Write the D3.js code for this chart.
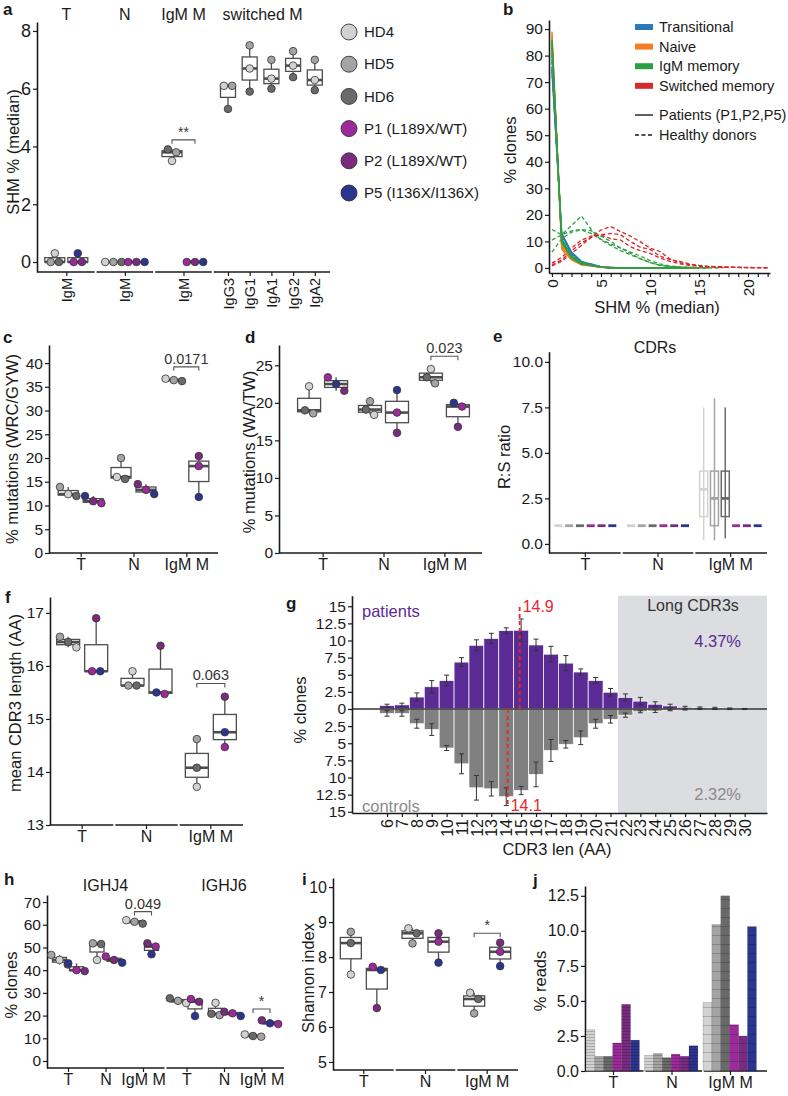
<!DOCTYPE html>
<html>
<head>
<meta charset="utf-8">
<script src="https://cdn.jsdelivr.net/npm/d3@7"></script>
<style>
  body { margin: 0; background: #fff; }
  svg { display: block; font-family: "Liberation Sans", Arial, sans-serif; }
</style>
</head>
<body>
<svg id="fig" width="788" height="1096"></svg>
<script>
// ---------------- data ----------------
const samples = ["HD4", "HD5", "HD6", "P1", "P2", "P5"];
const sampleLabels = ["HD4", "HD5", "HD6", "P1 (L189X/WT)", "P2 (L189X/WT)", "P5 (I136X/I136X)"];
const sampleColors = ["#d2d2d2", "#a4a4a4", "#6a6a6a", "#9c2a9c", "#7a2b80", "#2b3590"];
const subsets = ["T", "N", "IgM M"];

// a: median SHM %, per subset -> [HD4, HD5, HD6] and [P1, P2, P5]
const shmGroups = ["T", "N", "IgM M", "switched M"];
const switchedIsotypes = ["IgG3", "IgG1", "IgA1", "IgG2", "IgA2"];
const shmHD = [[0.3, 0, 0], [0, 0, 0], [3.5, 3.8, 3.9]];
const shmPt = [[0, 0, 0.3], [0, 0, 0], [0, 0, 0]];
const shmSwitchedHD = [[6.1, 6.1, 5.3], [6.7, 7.5, 5.9], [6.35, 7.0, 6.0], [6.8, 7.3, 6.4], [6.3, 7.0, 5.95]];

// b: % clones per SHM bin
const shmBins = [0, 1, 2, 3, 4, 5, 6, 7, 8, 9, 10, 11, 12, 13, 14, 15, 16, 17, 18, 19, 20, 21, 22];
const bSubsets = ["Transitional", "Naive", "IgM memory", "Switched memory"];
const bColors = ["#2a7ab9", "#f07e26", "#2ca043", "#d9262b"];
const transP1 = [76, 12.5, 5.5, 2.2, 1.5, 0.4, 0.1, 0, 0, 0, 0, 0, 0, 0, 0];
const transP2 = [80, 10, 4.5, 1.8, 1.1, 0.3, 0.1, 0, 0, 0, 0, 0, 0];
const transP5 = [74, 13, 6, 2.5, 1.3, 0.4, 0.1, 0, 0, 0, 0, 0];
const transHD4 = [78, 11, 5, 2, 1.2, 0.5, 0.2, 0.1, 0, 0, 0, 0, 0, 0, 0, 0];
const transHD5 = [81, 9.5, 4.2, 1.6, 0.9, 0.3, 0.1, 0, 0, 0, 0, 0, 0, 0];
const transHD6 = [75, 12, 6, 2.3, 1.4, 0.5, 0.2, 0.1, 0, 0, 0, 0, 0];
const naiveP1 = [89, 7, 3, 1.2, 0.8, 0.2, 0.1, 0, 0, 0, 0, 0, 0, 0, 0, 0];
const naiveP2 = [86, 8, 3.5, 1.5, 1, 0.3, 0.1, 0, 0, 0, 0, 0, 0, 0];
const naiveP5 = [84, 9, 4, 1.6, 0.9, 0.3, 0.1, 0, 0, 0, 0, 0, 0];
const naiveHD4 = [87, 8, 3.2, 1.2, 0.7, 0.3, 0.2, 0.1, 0.1, 0.1, 0.1, 0.1, 0.1, 0.1, 0.1, 0.1, 0.1, 0.1, 0.1];
const naiveHD5 = [85, 9, 4, 1.8, 1, 0.4, 0.2, 0.1, 0.1, 0, 0, 0, 0, 0, 0, 0, 0];
const naiveHD6 = [88, 7.5, 3.5, 1.3, 0.8, 0.3, 0.2, 0.1, 0, 0, 0, 0, 0, 0, 0];
const igmP1 = [85, 10, 4, 1.6, 1, 0.3, 0.1, 0, 0, 0, 0, 0, 0, 0, 0, 0];
const igmP2 = [83, 11, 4.5, 2, 1.1, 0.3, 0.1, 0, 0, 0, 0, 0, 0, 0];
const igmP5 = [86, 9.5, 3.8, 1.5, 0.9, 0.2, 0.1, 0, 0, 0, 0, 0, 0, 0, 0];
const igmHD4 = [14.5, 12.5, 16, 19.6, 14.5, 10.5, 8.5, 6.5, 5, 3.5, 2, 1, 0.6, 0.4, 0.2, 0.1, 0, 0];
const igmHD5 = [10.5, 12.5, 14, 14.5, 14, 12, 10, 7.5, 5.5, 3.5, 2, 1, 0.5, 0.3, 0.2, 0.1, 0];
const igmHD6 = [6, 11, 13.5, 14.3, 13, 10.8, 9, 7.5, 6, 4.5, 2.8, 1.5, 0.8, 0.4, 0.2, 0.1, 0];
const swHD4 = [0.8, 2.5, 5.5, 8.5, 11.5, 14.3, 15.6, 13.7, 12, 9.9, 7.5, 6.2, 3.5, 2, 1.3, 0.8, 0.5, 0.4, 0.3, 0.2, 0.1, 0.1, 0];
const swHD5 = [1.8, 4, 7.5, 10.5, 12, 12.5, 13, 12.5, 10, 7.8, 7, 4.5, 3.2, 2.5, 1.5, 1, 0.6, 0.5, 0.3, 0.2, 0.2, 0.1, 0.1];
const swHD6 = [1.2, 3, 6.5, 9.5, 11.5, 12.5, 11, 10.5, 8, 6.5, 5.5, 3.8, 2.5, 1.6, 1, 0.6, 0.4, 0.3, 0.2, 0.2, 0.1, 0.1, 0.1];
const bPatients = [[transP1, transP2, transP5], [naiveP1, naiveP2, naiveP5], [igmP1, igmP2, igmP5], []];
const bDonors = [[transHD4, transHD5, transHD6], [naiveHD4, naiveHD5, naiveHD6], [igmHD4, igmHD5, igmHD6], [swHD4, swHD5, swHD6]];

// c: % mutations in WRC/GYW hotspots
const wrcHD = [[12.4, 13.9, 12.0], [16.0, 20.0, 15.6], [36.7, 36.4, 36.2]];
const wrcPt = [[10.5, 10.9, 12.0], [13.3, 14.5, 12.4], [18.3, 20.4, 11.8]];
// d: % mutations in WA/TW hotspots
const waHD = [[22.2, 18.6, 19.0], [18.4, 20.2, 19.1], [24.5, 22.6, 23.4]];
const waPt = [[23.4, 21.6, 22.5], [18.7, 16.0, 21.7], [19.5, 16.8, 20.0]];
// e: R:S ratio box summaries [min, q1, median, q3, max]
const rsHD = [
  [[1, 1, 1, 1, 1], [1, 1, 1, 1, 1], [1, 1, 1, 1, 1]],
  [[1, 1, 1, 1, 1], [1, 1, 1, 1, 1], [1, 1, 1, 1, 1]],
  [[0.2, 1.5, 3.0, 4.0, 7.5], [0.2, 1.0, 2.5, 4.0, 8.0], [0.3, 1.5, 2.5, 4.0, 7.5]]
];
const rsPt = [
  [[1, 1, 1, 1, 1], [1, 1, 1, 1, 1], [1, 1, 1, 1, 1]],
  [[1, 1, 1, 1, 1], [1, 1, 1, 1, 1], [1, 1, 1, 1, 1]],
  [[1, 1, 1, 1, 1], [1, 1, 1, 1, 1], [1, 1, 1, 1, 1]]
];
// f: mean CDR3 length
const cdrHD = [[16.35, 16.55, 16.45], [15.9, 15.63, 15.63], [13.72, 14.62, 14.08]];
const cdrPt = [[15.9, 16.9, 15.9], [15.47, 16.38, 15.5], [14.47, 15.42, 14.75]];
// g: CDR3 length distribution
const cdr3Lengths = [6, 7, 8, 9, 10, 11, 12, 13, 14, 15, 16, 17, 18, 19, 20, 21, 22, 23, 24, 25, 26, 27, 28, 29, 30];
const patientPct = [0.5, 0.6, 1.75, 3.25, 4.15, 6.85, 9.3, 10.3, 11.45, 11.5, 9.35, 8.0, 6.7, 5.4, 4.15, 2.45, 1.7, 1.15, 0.7, 0.45, 0.25, 0.2, 0.15, 0.1, 0.05];
const patientErr = [0.2, 0.25, 0.6, 0.9, 0.8, 0.65, 0.8, 0.75, 0.4, 1.65, 0.85, 1.15, 1.1, 0.45, 0.45, 0.55, 0.5, 0.55, 0.35, 0.25, 0.15, 0.1, 0.1, 0.05, 0.03];
const controlPct = [0.65, 0.65, 2.15, 3.0, 5.7, 8.0, 11.5, 11.65, 12.8, 11.9, 9.55, 6.05, 5.15, 4.2, 2.15, 1.5, 0.9, 0.4, 0.3, 0.15, 0.1, 0.05, 0.05, 0.05, 0.05];
const controlErr = [0.4, 0.4, 0.65, 0.85, 0.35, 1.45, 1.8, 1.05, 1.3, 0.6, 1.8, 1.6, 0.55, 1.0, 0.65, 0.55, 0.3, 0.15, 0.2, 0.1, 0.05, 0.03, 0.03, 0.03, 0.03];
const meanLen = [14.9, 14.1];          // patients, controls
const longShare = ["4.37%", "2.32%"];  // patients, controls
const longStart = 21.5;
// h: IGHJ usage
const genes = ["IGHJ4", "IGHJ6"];
const j4HD = [[44.5, 46.7, 42.5], [44.5, 51.8, 51.5], [62.0, 61.3, 60.5]];
const j4Pt = [[40.0, 39.6, 43.0], [46.0, 44.5, 43.3], [50.4, 51.8, 47.0]];
const j6HD = [[25.5, 26.5, 27.6], [25.6, 20.2, 20.8], [11.7, 10.7, 11.0]];
const j6Pt = [[27.3, 26.1, 19.8], [21.0, 21.7, 19.8], [16.3, 17.9, 16.6]];
// i: Shannon index
const shanHD = [[7.5, 8.72, 8.4], [8.82, 8.39, 8.68], [6.98, 6.39, 6.8]];
const shanPt = [[7.72, 6.54, 7.63], [8.44, 8.68, 7.84], [8.15, 8.41, 7.74]];
// j: % reads of top clones
const readsHD = [[2.95, 1.05, 1.05], [1.1, 1.25, 0.95], [4.9, 10.45, 12.5]];
const readsPt = [[2.0, 4.75, 2.2], [1.2, 1.05, 1.8], [3.3, 2.5, 10.3]];

// ---------------- helpers ----------------
const svg = d3.select("#fig");
const FONT = "Liberation Sans, Arial, sans-serif";
const INK = "#1a1a1a";
const BOX = "#4d4d4d";
const R = 3.8;
const TICK = 15.5;
const TITLE = 16.5;
const hdColors = sampleColors.slice(0, 3);
const ptColors = sampleColors.slice(3);

svg.append("rect").attr("width", 788).attr("height", 1096).attr("fill", "#fff");

function letter(x, y, t) {
  svg.append("text").attr("x", x).attr("y", y).attr("font-weight", "bold")
    .attr("font-size", 17).attr("fill", INK).text(t);
}

function label(x, y, t, size, color, anchor) {
  return svg.append("text").attr("x", x).attr("y", y).attr("font-size", size || TICK)
    .attr("fill", color || INK).attr("text-anchor", anchor || "middle").text(t);
}

function yTitle(cx, cy, t) {
  svg.append("text").attr("transform", `translate(${cx},${cy}) rotate(-90)`)
    .attr("text-anchor", "middle").attr("dy", "0.35em").attr("font-size", TITLE)
    .attr("fill", INK).text(t);
}

function styleAxis(g, size) {
  g.selectAll(".domain").attr("stroke", INK).attr("stroke-width", 1.6);
  g.selectAll(".tick line").attr("stroke", INK).attr("stroke-width", 1.2);
  g.selectAll(".tick text").attr("fill", INK).attr("font-size", size || TICK).attr("font-family", FONT);
}

function yAxis(scale, x, ticks, fmt, size) {
  const g = svg.append("g").attr("transform", `translate(${x},0)`)
    .call(d3.axisLeft(scale).tickValues(ticks).tickFormat(fmt || d3.format("d"))
      .tickSize(4).tickPadding(2).tickSizeOuter(0));
  styleAxis(g, size);
  return g;
}

function catAxis(scale, y, size) {
  const g = svg.append("g").attr("transform", `translate(0,${y})`)
    .call(d3.axisBottom(scale).tickSize(4).tickPadding(2).tickSizeOuter(0));
  g.select(".domain").remove();
  styleAxis(g, size || 16);
  return g;
}

function rotateLabels(g) {
  g.selectAll(".tick text").attr("transform", "rotate(-90)").attr("text-anchor", "end")
    .attr("x", -6).attr("y", 0).attr("dy", "0.35em");
}

// axis line split into segments with small gaps
function segLine(segs, y) {
  svg.append("g").selectAll("line").data(segs).join("line")
    .attr("x1", (d, i) => d[0] + (i > 0 ? 1 : 0))
    .attr("x2", (d, i) => d[1] - (i < segs.length - 1 ? 1 : 0))
    .attr("y1", y).attr("y2", y).attr("stroke", INK).attr("stroke-width", 1.6);
}

function bandSegs(scale) {
  return scale.domain().map(d => [scale(d), scale(d) + scale.step()]);
}

function boxStats(vals) {
  const s = vals.slice().sort(d3.ascending);
  return [s[0], d3.quantileSorted(s, 0.25), d3.quantileSorted(s, 0.5), d3.quantileSorted(s, 0.75), s[s.length - 1]];
}

function drawBox(g, cx, st, y, w, color, fill, sw, mw) {
  g.append("line").attr("x1", cx).attr("x2", cx).attr("y1", y(st[0])).attr("y2", y(st[4]))
    .attr("stroke", color).attr("stroke-width", sw || 1.3);
  g.append("rect").attr("x", cx - w / 2).attr("y", y(st[3])).attr("width", w)
    .attr("height", Math.max(0, y(st[1]) - y(st[3])))
    .attr("fill", fill).attr("stroke", color).attr("stroke-width", sw || 1.3);
  g.append("line").attr("x1", cx - w / 2).attr("x2", cx + w / 2).attr("y1", y(st[2])).attr("y2", y(st[2]))
    .attr("stroke", color).attr("stroke-width", mw || 2.6);
}

// simple beeswarm: points that overlap vertically are spread sideways
function drawSwarm(g, cx, vals, colors, y) {
  const pts = vals.map((v, i) => ({ v, c: colors[i], py: y(v) })).sort((a, b) => a.py - b.py);
  const clusters = [];
  pts.forEach(p => {
    const last = clusters[clusters.length - 1];
    if (last && p.py - last[last.length - 1].py < 2 * R) last.push(p);
    else clusters.push([p]);
  });
  clusters.forEach(cl => cl.forEach((p, i) => { p.px = cx + (i - (cl.length - 1) / 2) * (2 * R + 0.6); }));
  g.append("g").selectAll("circle").data(pts).join("circle")
    .attr("cx", d => d.px).attr("cy", d => d.py).attr("r", R)
    .attr("fill", d => d.c).attr("stroke", "#333").attr("stroke-width", 0.8);
}

function boxPanel(centers, off, hd, pt, y, w) {
  const g = svg.append("g");
  centers.forEach((cx, i) => {
    drawBox(g, cx - off, boxStats(hd[i]), y, w, BOX, "#fff");
    drawBox(g, cx + off, boxStats(pt[i]), y, w, BOX, "#fff");
  });
  centers.forEach((cx, i) => {
    drawSwarm(g, cx - off, hd[i], hdColors, y);
    drawSwarm(g, cx + off, pt[i], ptColors, y);
  });
}

function bracket(x1, x2, y, text, size) {
  svg.append("path").attr("d", `M${x1},${y + 4}V${y}H${x2}V${y + 4}`)
    .attr("fill", "none").attr("stroke", "#555").attr("stroke-width", 1.1);
  label((x1 + x2) / 2, y - 3, text, size || 14.5, "#333");
}

// ---------------- panel a ----------------
letter(3, 15, "a");
const yA = d3.scaleLinear().domain([-0.346, 8.31]).range([272, 22]);
const uA = d3.scaleLinear().domain([0, 5]).range([37, 330]);
const swPos = d3.scalePoint().domain(switchedIsotypes).range([3, 5]).padding(0.7);
const aSpans = [[0, 1], [1, 2], [2, 3], [3, 5]];
yAxis(yA, 37, [0, 2, 4, 6, 8], d3.format("d"), 18);
segLine(aSpans.map(s => [uA(s[0]), uA(s[1])]), 272);
const aTickUnits = [0.5, 1.5, 2.5].concat(switchedIsotypes.map(swPos));
const aTickLabels = ["IgM", "IgM", "IgM"].concat(switchedIsotypes);
const gAx = svg.append("g").attr("transform", "translate(0,272)")
  .call(d3.axisBottom(uA).tickValues(aTickUnits).tickFormat((d, i) => aTickLabels[i]).tickSize(4));
gAx.select(".domain").remove();
styleAxis(gAx, 14.5);
rotateLabels(gAx);
shmGroups.forEach((name, i) => label(uA(i < 3 ? i + 0.5 : 3.85), 20, name, 16));
boxPanel(subsets.map((s, i) => uA(i + 0.5)), 11.5, shmHD, shmPt, yA, 20);
const gSw = svg.append("g");
switchedIsotypes.forEach((iso, k) => drawBox(gSw, uA(swPos(iso)), boxStats(shmSwitchedHD[k]), yA, 15, BOX, "#fff"));
switchedIsotypes.forEach((iso, k) => drawSwarm(gSw, uA(swPos(iso)), shmSwitchedHD[k], hdColors, yA));
bracket(uA(2.5) - 11.5, uA(2.5) + 11.5, yA(4.23), "**", 14);
yTitle(13, 152, "SHM % (median)");

// legend a
const legA = svg.append("g").attr("transform", "translate(349,32)");
sampleLabels.forEach((t, i) => {
  const row = legA.append("g").attr("transform", `translate(0,${i * 32.2})`);
  row.append("circle").attr("r", 8).attr("fill", sampleColors[i]).attr("stroke", "#333").attr("stroke-width", 0.9);
  row.append("text").attr("x", 15).attr("dy", "0.35em").attr("font-size", 15).attr("fill", INK).text(t);
});

// ---------------- panel b ----------------
letter(503, 15, "b");
const xB = d3.scaleLinear().domain([-0.3, 22.24]).range([549, 770]);
const yB = d3.scaleLinear().domain([-1.9, 93.4]).range([273, 20]);
yAxis(yB, 549, [0, 10, 20, 30, 40, 50, 60, 70, 80, 90], d3.format("d"), 15.5);
const gBx = svg.append("g").attr("transform", "translate(0,273)")
  .call(d3.axisBottom(xB).tickValues(shmBins).tickFormat(d => d % 5 === 0 ? d : "").tickSize(4).tickSizeOuter(0));
styleAxis(gBx, 15.5);
rotateLabels(gBx);
const bLine = d3.line().x((d, i) => xB(shmBins[i])).y(d => yB(d));
const gB = svg.append("g").attr("fill", "none");
bDonors.forEach((set, k) => set.forEach(s => gB.append("path").attr("d", bLine(s))
  .attr("stroke", bColors[k]).attr("stroke-width", 1.3).attr("stroke-dasharray", "4,2.5")));
bPatients.forEach((set, k) => set.forEach(s => gB.append("path").attr("d", bLine(s))
  .attr("stroke", bColors[k]).attr("stroke-width", 1.4)));
yTitle(510, 150, "% clones");
label(657, 313, "SHM % (median)", TITLE);
const legB = svg.append("g").attr("transform", "translate(635,0)");
bSubsets.forEach((t, i) => {
  const yy = 27 + i * 19.6;
  legB.append("rect").attr("x", 0).attr("y", yy - 3).attr("width", 18).attr("height", 6).attr("fill", bColors[i]);
  legB.append("text").attr("x", 24).attr("y", yy).attr("dy", "0.35em").attr("font-size", 14.5).attr("fill", INK).text(t);
});
[["Patients (P1,P2,P5)", null], ["Healthy donors", "4,2.5"]].forEach(([t, dash], i) => {
  const yy = 115 + i * 20;
  legB.append("line").attr("x1", 0).attr("x2", 18).attr("y1", yy).attr("y2", yy)
    .attr("stroke", INK).attr("stroke-width", 1.4).attr("stroke-dasharray", dash);
  legB.append("text").attr("x", 24).attr("y", yy).attr("dy", "0.35em").attr("font-size", 14.5).attr("fill", INK).text(t);
});

// ---------------- panel c ----------------
letter(3, 343, "c");
const yC = d3.scaleLinear().domain([0, 43.8]).range([553, 345]);
yAxis(yC, 49, [0, 5, 10, 15, 20, 25, 30, 35, 40]);
segLine([[49, 218]], 553);
const xC = d3.scalePoint().domain(subsets).range([49, 218]).padding(0.6);
catAxis(xC, 553);
boxPanel(subsets.map(xC), 12.5, wrcHD, wrcPt, yC, 20);
bracket(xC("IgM M") - 12.5, xC("IgM M") + 12.5, yC(39.2), "0.0171");
yTitle(12, 449, "% mutations (WRC/GYW)");

// ---------------- panel d ----------------
letter(245, 343, "d");
const yD = d3.scaleLinear().domain([0, 27.7]).range([553, 345]);
yAxis(yD, 279, [0, 5, 10, 15, 20, 25]);
segLine([[279, 482]], 553);
const xD = d3.scalePoint().domain(subsets).range([283, 484]).padding(0.65);
catAxis(xD, 553);
boxPanel(subsets.map(xD), 13.5, waHD, waPt, yD, 23);
bracket(xD("IgM M") - 13.5, xD("IgM M") + 13.5, yD(26.2), "0.023");
yTitle(249, 452, "% mutations (WA/TW)");

// ---------------- panel e ----------------
letter(493, 342, "e");
label(655, 353, "CDRs", 16);
const yE = d3.scaleLinear().domain([-0.5, 10.56]).range([553, 351.7]);
yAxis(yE, 549, [0, 2.5, 5, 7.5, 10], d3.format(".1f"));
const xE = d3.scaleBand().domain(subsets).range([549, 767]);
segLine(bandSegs(xE), 553);
catAxis(xE, 553);
const innerE = d3.scalePoint().domain(samples).range([-27, 27]);
const gE = svg.append("g");
subsets.forEach((s, i) => samples.forEach((smp, j) => {
  const st = j < 3 ? rsHD[i][j] : rsPt[i][j - 3];
  drawBox(gE, xE(s) + xE.bandwidth() / 2 + innerE(smp), st, yE, 8, sampleColors[j], "none", 1.5, 2.8);
}));
yTitle(504, 457, "R:S ratio");

// ---------------- panel f ----------------
letter(5, 603, "f");
const yF = d3.scaleLinear().domain([13, 17.3]).range([825, 597]);
yAxis(yF, 50, [13, 14, 15, 16, 17]);
const xF = d3.scaleBand().domain(subsets).range([50, 243]);
segLine(bandSegs(xF), 825);
catAxis(xF, 825);
boxPanel(subsets.map(s => xF(s) + xF.bandwidth() / 2), 14, cdrHD, cdrPt, yF, 23);
bracket(xF("IgM M") + xF.bandwidth() / 2 - 14, xF("IgM M") + xF.bandwidth() / 2 + 14, yF(15.67), "0.063");
yTitle(15, 703, "mean CDR3 length (AA)");

// ---------------- panel g ----------------
letter(286, 609, "g");
const xG = d3.scaleLinear().domain([3.65, 31.5]).range([352, 767]);
const yG = d3.scaleLinear().domain([-15.18, 16.54]).range([813, 595.7]);
const barW = xG(7) - xG(6);
svg.append("rect").attr("x", xG(longStart)).attr("y", yG.range()[1])
  .attr("width", xG.range()[1] - xG(longStart)).attr("height", yG.range()[0] - yG.range()[1])
  .attr("fill", "#dcdde0");
const gG = svg.append("g");
gG.selectAll("rect.pt").data(patientPct).join("rect").attr("class", "pt")
  .attr("x", (d, i) => xG(cdr3Lengths[i]) - barW / 2).attr("width", barW)
  .attr("y", d => yG(d)).attr("height", d => yG(0) - yG(d))
  .attr("fill", "#5b2b95").attr("stroke", "#fff").attr("stroke-width", 0.7);
gG.selectAll("rect.ct").data(controlPct).join("rect").attr("class", "ct")
  .attr("x", (d, i) => xG(cdr3Lengths[i]) - barW / 2).attr("width", barW)
  .attr("y", yG(0)).attr("height", d => yG(-d) - yG(0))
  .attr("fill", "#808080").attr("stroke", "#fff").attr("stroke-width", 0.7);
function errBars(vals, errs, sign) {
  const e = gG.append("g").attr("stroke", "#333").attr("stroke-width", 1);
  vals.forEach((v, i) => {
    const cx = xG(cdr3Lengths[i]);
    const y1 = yG(sign * (v - errs[i])), y2 = yG(sign * (v + errs[i]));
    e.append("path").attr("d", `M${cx},${y1}V${y2}M${cx - 2.5},${y1}H${cx + 2.5}M${cx - 2.5},${y2}H${cx + 2.5}`)
      .attr("fill", "none");
  });
}
errBars(patientPct, patientErr, 1);
errBars(controlPct, controlErr, -1);
gG.append("line").attr("x1", xG.range()[0]).attr("x2", xG.range()[1]).attr("y1", yG(0)).attr("y2", yG(0))
  .attr("stroke", "#333").attr("stroke-width", 1.6);
meanLen.forEach((m, i) => {
  const sign = i === 0 ? 1 : -1;
  gG.append("line").attr("x1", xG(m)).attr("x2", xG(m)).attr("y1", yG(0)).attr("y2", yG(sign * m))
    .attr("stroke", "#e8262b").attr("stroke-width", 1.8).attr("stroke-dasharray", "4,3");
  label(xG(m) + 3, yG(sign * m) + 5, m.toFixed(1), 16, "#e8262b", "start");
});
yAxis(yG, 352, [-15, -12.5, -10, -7.5, -5, -2.5, 0, 2.5, 5, 7.5, 10, 12.5, 15], d => String(Math.abs(d)));
const gGx = svg.append("g").attr("transform", `translate(0,${yG.range()[0]})`)
  .call(d3.axisBottom(xG).tickValues(cdr3Lengths).tickSize(4).tickSizeOuter(0));
styleAxis(gGx, 16);
rotateLabels(gGx);
label(362, 617, "patients", 16.5, "#5b2b95", "start");
label(362, 812, "controls", 16.5, "#8a8a8a", "start");
label(693, 611, "Long CDR3s", 16, "#333");
label(741, 647, longShare[0], 16.5, "#5b2b95", "end");
label(741, 800, longShare[1], 16.5, "#8a8a8a", "end");
yTitle(300, 710, "% clones");
label(557, 855, "CDR3 len (AA)", TITLE);

// ---------------- panel h ----------------
letter(4, 885, "h");
const yH = d3.scaleLinear().domain([-3.08, 73.1]).range([1068, 895]);
yAxis(yH, 47, [0, 10, 20, 30, 40, 50, 60, 70]);
const xH = d3.scaleBand().domain(genes).range([47, 284]);
segLine(bandSegs(xH), 1068);
const hData = [[j4HD, j4Pt], [j6HD, j6Pt]];
genes.forEach((gname, k) => {
  const inner = d3.scalePoint().domain(subsets).range([xH(gname) + 21, xH(gname) + 96]);
  catAxis(inner, 1068);
  label(inner("N"), 891, gname, 16);
  boxPanel(subsets.map(inner), 8.5, hData[k][0], hData[k][1], yH, 14);
  if (k === 0) bracket(inner("IgM M") - 8.5, inner("IgM M") + 8.5, yH(65.8), "0.049");
  else bracket(inner("IgM M") - 8.5, inner("IgM M") + 8.5, yH(22.9), "*", 14);
});
yTitle(11, 985, "% clones");

// ---------------- panel i ----------------
letter(302, 885, "i");
const yI = d3.scaleLinear().domain([4.77, 10.26]).range([1070, 878]);
yAxis(yI, 333, [5, 6, 7, 8, 9, 10], d3.format("d"), 16);
const xI = d3.scaleBand().domain(subsets).range([333, 518]);
segLine(bandSegs(xI), 1070);
catAxis(xI, 1070);
boxPanel(subsets.map(s => xI(s) + xI.bandwidth() / 2), 13, shanHD, shanPt, yI, 21);
bracket(xI("IgM M") + xI.bandwidth() / 2 - 13, xI("IgM M") + xI.bandwidth() / 2 + 13, yI(8.68), "*", 14);
yTitle(308, 978, "Shannon index");

// ---------------- panel j ----------------
letter(533, 886, "j");
const yJ = d3.scaleLinear().domain([0, 13.2]).range([1071, 886]);
yAxis(yJ, 585, [0, 2.5, 5, 7.5, 10, 12.5], d3.format(".1f"), 16);
const xJ = d3.scaleBand().domain(subsets).range([586, 761.5]);
const jSegs = bandSegs(xJ);
jSegs[0][0] = 585;
jSegs[jSegs.length - 1][1] = 767;
segLine(jSegs, 1071);
const xJin = d3.scaleBand().domain(samples).range([0, 53.4]);
const defs = svg.append("defs");
[["stripeDense", 3], ["stripeSparse", 9]].forEach(([id, gap]) => {
  const p = defs.append("pattern").attr("id", id).attr("patternUnits", "userSpaceOnUse")
    .attr("width", 10).attr("height", gap);
  p.append("line").attr("x1", 0).attr("x2", 10).attr("y1", gap - 0.4).attr("y2", gap - 0.4)
    .attr("stroke", "rgba(0,0,0,0.3)").attr("stroke-width", 0.7);
});
const jStripe = ["stripeDense", "stripeDense", "stripeSparse"];
const gJ = svg.append("g");
subsets.forEach((s, i) => samples.forEach((smp, j) => {
  const v = j < 3 ? readsHD[i][j] : readsPt[i][j - 3];
  const x = xJ(s) + xJin(smp);
  gJ.append("rect").attr("x", x).attr("y", yJ(v)).attr("width", xJin.bandwidth()).attr("height", yJ(0) - yJ(v))
    .attr("fill", sampleColors[j]);
  gJ.append("rect").attr("x", x).attr("y", yJ(v)).attr("width", xJin.bandwidth()).attr("height", yJ(0) - yJ(v))
    .attr("fill", `url(#${jStripe[i]})`).attr("stroke", "rgba(0,0,0,0.25)").attr("stroke-width", 0.5);
}));
const jLab = d3.scalePoint().domain(subsets).range([xJ("T") + 27, xJ("IgM M") + 27]);
catAxis(jLab, 1071);
yTitle(540, 981, "% reads");
</script>
</body>
</html>
